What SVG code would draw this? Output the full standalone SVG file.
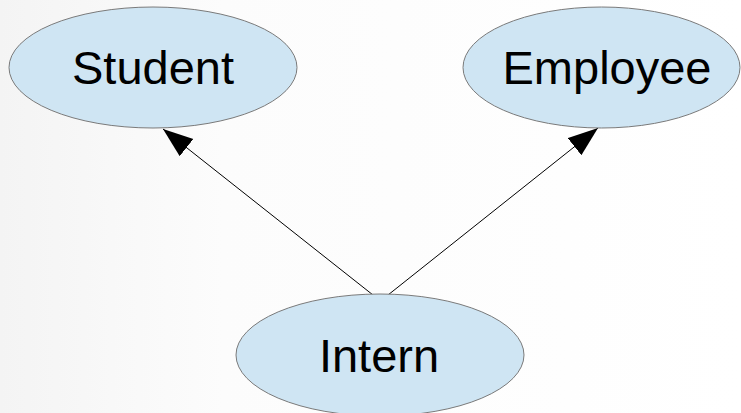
<svg xmlns="http://www.w3.org/2000/svg" width="741" height="413" viewBox="0 0 741 413">
<defs>
<linearGradient id="bg" x1="0" y1="0" x2="1" y2="0">
<stop offset="0" stop-color="#f4f4f4"/>
<stop offset="0.3" stop-color="#fcfcfc"/>
<stop offset="1" stop-color="#ffffff"/>
</linearGradient>
<marker id="arr" markerUnits="userSpaceOnUse" markerWidth="32" markerHeight="24" refX="30" refY="11" orient="auto">
<path d="M0,0 L30,11 L0,22 Z" fill="#000"/>
</marker>
<style>
.node{fill:#cfe5f3;stroke:#7a7a7a;stroke-width:1}
.lbl{font-family:"Liberation Sans",Arial,sans-serif;font-size:47px;fill:#000;text-anchor:middle}
.edge{stroke:#000;stroke-width:1;fill:none}
</style>
</defs>
<rect width="741" height="413" fill="url(#bg)"/>
<g id="connectors">
<line class="edge" x1="373" y1="295" x2="163" y2="129" marker-end="url(#arr)"/>
<line class="edge" x1="388" y1="295" x2="598" y2="128" marker-end="url(#arr)"/>
</g>
<g id="student">
<ellipse class="node" cx="153" cy="67.5" rx="144" ry="60.5"/>
<text class="lbl" x="153" y="84">Student</text>
</g>
<g id="employee">
<ellipse class="node" cx="601.5" cy="67.5" rx="138.5" ry="60.5"/>
<text class="lbl" x="607" y="84">Employee</text>
</g>
<g id="intern">
<ellipse class="node" cx="380" cy="355" rx="144" ry="61"/>
<text class="lbl" x="379" y="372">Intern</text>
</g>
</svg>
